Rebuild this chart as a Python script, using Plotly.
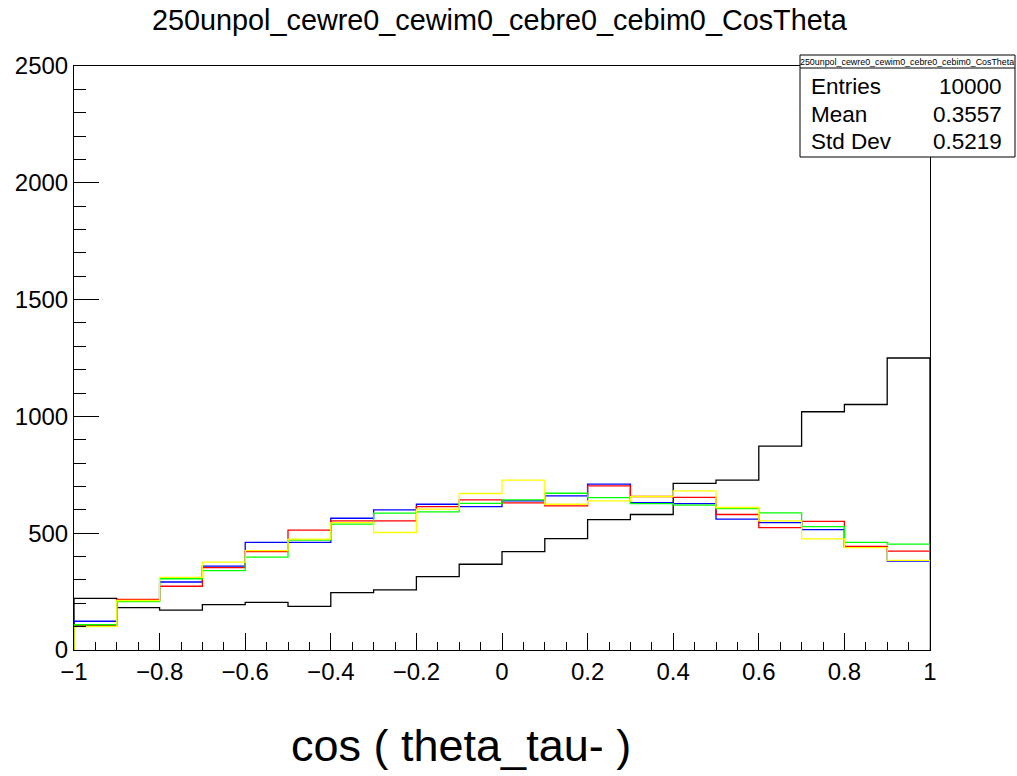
import plotly.graph_objects as go

# ---- data ----
bin_edges = [round(-1 + 0.1 * i, 2) for i in range(21)]
black = [221, 181, 171, 194, 204, 187, 246, 257, 314, 367, 421, 477, 558, 580, 713, 727, 873, 1020, 1051, 1250]
blue = [123, 210, 291, 359, 461, 461, 564, 600, 624, 614, 638, 660, 710, 631, 627, 560, 545, 515, 441, 381]
red = [105, 217, 273, 353, 421, 513, 553, 553, 614, 643, 630, 617, 703, 657, 653, 580, 524, 551, 444, 423]
green = [108, 207, 305, 340, 398, 470, 539, 586, 591, 628, 643, 671, 652, 627, 620, 605, 587, 528, 461, 453]
yellow = [100, 212, 311, 376, 425, 475, 545, 503, 603, 670, 727, 624, 638, 657, 681, 610, 553, 476, 438, 384]

series = [("black", black), ("#0000ff", blue), ("#ff0000", red), ("#00ff00", green), ("#ffff00", yellow)]

title_text = "250unpol_cewre0_cewim0_cebre0_cebim0_CosTheta"
xtitle = "cos ( theta_tau- )"
x_tickvals = [-1, -0.8, -0.6, -0.4, -0.2, 0, 0.2, 0.4, 0.6, 0.8, 1]
x_ticktext = ["\u22121", "\u22120.8", "\u22120.6", "\u22120.4", "\u22120.2", "0", "0.2", "0.4", "0.6", "0.8", "1"]
y_tickvals = [0, 500, 1000, 1500, 2000, 2500]
stats_labels = ["Entries", "Mean", "Std Dev"]
stats_values = ["10000", "0.3557", "0.5219"]

FONT = "Liberation Sans, Arial, Helvetica, sans-serif"

fig = go.Figure()
for color, vals in series:
    xs = [bin_edges[0]] + bin_edges + [bin_edges[-1]]
    ys = [0] + vals + [vals[-1], 0]
    fig.add_trace(go.Scatter(x=xs, y=ys, mode="lines", line=dict(shape="hv", color=color, width=1.3),
                             hoverinfo="skip", showlegend=False))

L, R, T, B = 74, 87, 66, 126
W, H = 1017, 776
pw, ph = W - L - R, H - T - B

def px(xp):
    return (xp - L) / pw

def py(yp):
    return (H - B - yp) / ph

fig.update_layout(
    width=W, height=H,
    margin=dict(l=L, r=R, t=T, b=B),
    paper_bgcolor="white", plot_bgcolor="white",
    font=dict(family=FONT, color="black"),
    showlegend=False,
)
fig.update_xaxes(
    range=[-1, 1], tickvals=x_tickvals, ticktext=x_ticktext,
    ticks="inside", ticklen=17, tickwidth=1, tickcolor="black",
    minor=dict(dtick=0.05, tick0=0, ticks="inside", ticklen=8, tickwidth=1, tickcolor="black"),
    showline=True, linecolor="black", linewidth=1, mirror=True,
    showgrid=False, zeroline=False, tickfont=dict(size=24, family=FONT),
)
fig.update_yaxes(
    range=[0, 2500], tickvals=y_tickvals,
    ticks="inside", ticklen=25, tickwidth=1, tickcolor="black",
    minor=dict(dtick=100, tick0=0, ticks="inside", ticklen=12, tickwidth=1, tickcolor="black"),
    showline=True, linecolor="black", linewidth=1, mirror=True,
    showgrid=False, zeroline=False, tickfont=dict(size=24, family=FONT),
)

# stats box
bx0, bx1, by0, by1 = px(800), px(1015), py(157), py(55)
fig.add_shape(type="rect", xref="paper", yref="paper", x0=bx0, x1=bx1, y0=by0, y1=by1,
              line=dict(color="black", width=1), fillcolor="white", layer="above")
fig.add_shape(type="line", xref="paper", yref="paper", x0=bx0, x1=bx1, y0=py(68), y1=py(68),
              line=dict(color="black", width=1), layer="above")
fig.add_annotation(xref="paper", yref="paper", x=(bx0 + bx1) / 2 - 0.001, y=py(61.5), text=title_text,
                   showarrow=False, font=dict(size=8.9, family=FONT), xanchor="center", yanchor="middle")
row_y = [87, 114, 141]
for lab, val, yy in zip(stats_labels, stats_values, row_y):
    fig.add_annotation(xref="paper", yref="paper", x=px(809), y=py(yy), text=lab, showarrow=False,
                       font=dict(size=22.5, family=FONT), xanchor="left", yanchor="middle")
    fig.add_annotation(xref="paper", yref="paper", x=px(1004), y=py(yy), text=val, showarrow=False,
                       font=dict(size=22.5, family=FONT), xanchor="right", yanchor="middle")

# title
fig.add_annotation(xref="paper", yref="paper", x=px(500), y=py(20), text=title_text, showarrow=False,
                   font=dict(size=28.8, family=FONT), xanchor="center", yanchor="middle")
# x axis title
fig.add_annotation(xref="paper", yref="paper", x=px(461), y=py(745), text=xtitle, showarrow=False,
                   font=dict(size=45, family=FONT), xanchor="center", yanchor="middle")

fig.write_html("out.html")
